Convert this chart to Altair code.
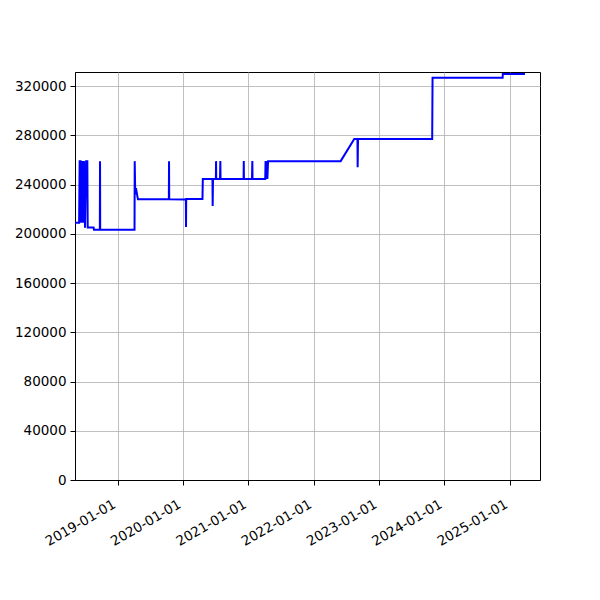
import altair as alt
import pandas as pd

dates = [
    "2018-05-07", "2018-05-30", "2018-06-02", "2018-06-07", "2018-06-10",
    "2018-06-15", "2018-06-21", "2018-06-26", "2018-07-02", "2018-07-08",
    "2018-07-15", "2018-07-17", "2018-08-19", "2018-08-21", "2018-09-23",
    "2018-09-24", "2018-09-25", "2019-04-05", "2019-04-06", "2019-04-09",
    "2019-04-13", "2019-04-24", "2019-10-14", "2019-10-15", "2019-10-16",
    "2020-01-17", "2020-01-18", "2020-01-19", "2020-04-19", "2020-04-21",
    "2020-06-14", "2020-06-15", "2020-06-17", "2020-07-03", "2020-07-04",
    "2020-07-05", "2020-07-26", "2020-07-28", "2020-07-29", "2020-12-05",
    "2020-12-06", "2020-12-07", "2021-01-21", "2021-01-23", "2021-01-24",
    "2021-04-05", "2021-04-07", "2021-04-09", "2021-04-14", "2021-04-17",
    "2021-04-21", "2022-06-01", "2022-08-16", "2022-09-03", "2022-09-04",
    "2022-09-06", "2023-10-26", "2023-10-28", "2024-11-23", "2024-11-24",
    "2025-03-28",
]
prices = [
    209000, 209000, 259000, 259000, 209000,
    259000, 209000, 259000, 205000, 259000,
    259000, 205000, 205000, 203300, 203300,
    259000, 203300, 203300, 259000, 232000,
    237000, 228000, 228000, 259000, 228000,
    227800, 205500, 228300, 228300, 244500,
    244500, 222500, 244500, 244500, 259000,
    244500, 244500, 259000, 244500, 244500,
    259000, 244500, 244500, 259000, 244500,
    244500, 259000, 244500, 259000, 244500,
    259000, 259000, 277000, 277000, 254000,
    277000, 277000, 326700, 326700, 329800,
    329800,
]

x_domain = ["2018-05-07", "2025-06-20"]
x_ticks = ["2019-01-01", "2020-01-01", "2021-01-01", "2022-01-01",
           "2023-01-01", "2024-01-01", "2025-01-01"]
y_ticks = [0, 40000, 80000, 120000, 160000, 200000, 240000, 280000, 320000]
y_domain = [0, 331400]


def ms(s):
    return int(pd.Timestamp(s, tz="UTC").value // 10**6)


df = pd.DataFrame({"t": [ms(d) for d in dates], "price": prices})

FONT = "DejaVu Sans"

chart = alt.Chart(df).mark_line(color="#0000ff", strokeWidth=2, clip=True).encode(
    x=alt.X(
        "t:Q",
        scale=alt.Scale(domain=[ms(d) for d in x_domain], nice=False, zero=False),
        axis=alt.Axis(
            values=[ms(d) for d in x_ticks],
            labelExpr="utcFormat(datum.value, '%Y-%m-%d')",
            labelAngle=-30,
            labelAlign="right",
            labelBaseline="top",
            labelOffset=-7,
            labelPadding=12,
            title=None,
        ),
    ),
    y=alt.Y(
        "price:Q",
        scale=alt.Scale(domain=y_domain, nice=False, zero=True),
        axis=alt.Axis(values=y_ticks, format="d", title=None, labelPadding=4),
    ),
).properties(
    width=465,
    height=408,
    autosize="none",
    background="white",
    padding={"left": 67, "top": 64, "right": 52, "bottom": 112},
).configure_axis(
    grid=True,
    gridColor="#b0b0b0",
    gridWidth=0.8,
    domainColor="black",
    domainWidth=1,
    tickColor="black",
    tickSize=5,
    tickWidth=1,
    labelFont=FONT,
    labelFontSize=13.5,
    labelColor="black",
    labelFlush=False,
    labelOverlap=False,
).configure_view(
    stroke="black",
    strokeWidth=1,
)

chart.save("out.html", embed_options={"renderer": "svg", "actions": False})
